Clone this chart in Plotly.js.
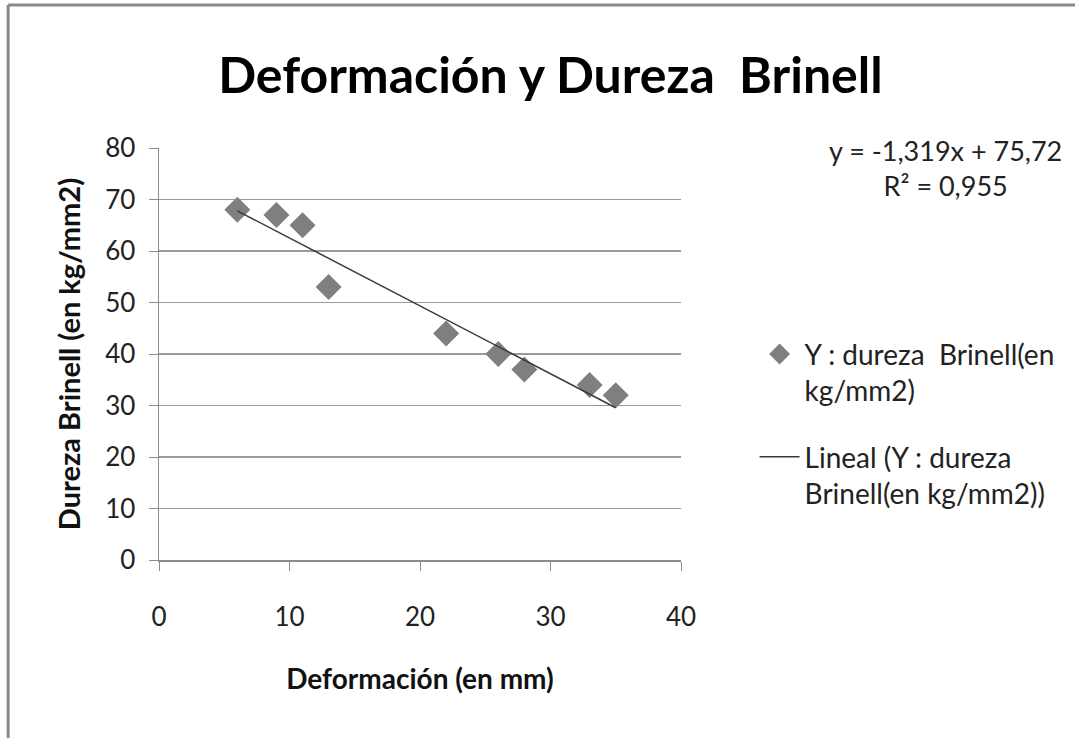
<!DOCTYPE html>
<html>
<head>
<meta charset="utf-8">
<script src="https://cdn.plot.ly/plotly-3.0.1.min.js"></script>
<style>html,body{margin:0;padding:0;background:#fff;}#chart{width:1075px;height:738px;}</style>
</head>
<body>
<div id="chart"></div>
<script>
const deformacion = [6, 9, 11, 13, 22, 26, 28, 33, 35];
const dureza = [68, 67, 65, 53, 44, 40, 37, 34, 32];
const trendSlope = -1.319;
const trendIntercept = 75.72;
const rSquared = 0.955;
const xTicks = [0, 10, 20, 30, 40];
const yTicks = [0, 10, 20, 30, 40, 50, 60, 70, 80];
const seriesName = 'Y : dureza  Brinell(en<br>kg/mm2)';
const trendName = 'Lineal (Y : dureza<br>Brinell(en kg/mm2))';

const FONT = 'Lato, "Open Sans", sans-serif';

const xMin = Math.min(...deformacion), xMax = Math.max(...deformacion);
const trendX = [xMin, xMax];
const trendY = trendX.map(v => trendSlope * v + trendIntercept);

const fmt = (v, d) => v.toFixed(d).replace('.', ',');
const eqText = 'y = ' + fmt(trendSlope, 3) + 'x + ' + fmt(trendIntercept, 2) + '<br>R² = ' + fmt(rSquared, 3);

const data = [
  {x: deformacion, y: dureza, mode: 'markers', type: 'scatter', name: seriesName, legendgroup: 'a',
   marker: {symbol: 'diamond', size: 20, color: '#7f7f7f', line: {width: 0}}},
  {x: trendX, y: trendY, mode: 'lines', type: 'scatter', name: trendName, legendgroup: 'b',
   line: {color: '#3a3a3a', width: 1.5}}
];

const layout = {
  width: 1075, height: 738,
  margin: {l: 159, r: 394, t: 148, b: 178},
  paper_bgcolor: '#ffffff', plot_bgcolor: '#ffffff',
  font: {family: FONT, color: '#222', size: 25},
  title: {text: 'Deformación y Dureza  Brinell', font: {family: FONT, size: 50, color: '#000', weight: 'bold'},
          x: 0.512, xref: 'container', xanchor: 'center', y: 0.898, yref: 'container', yanchor: 'middle'},
  xaxis: {range: [0, 40], tickvals: xTicks, ticks: 'outside', ticklen: 9, tickcolor: '#8c8c8c',
          showline: true, linecolor: '#8c8c8c', linewidth: 1.5, showgrid: false, zeroline: false,
          ticklabelstandoff: 24, tickfont: {size: 26, color: '#222'},
          title: {text: 'Deformación (en mm)', font: {size: 28, color: '#111', weight: 'bold'}, standoff: 38}},
  yaxis: {range: [0, 80], tickvals: yTicks, ticks: 'outside', ticklen: 9, tickcolor: '#8c8c8c',
          showline: true, linecolor: '#8c8c8c', linewidth: 1.5, showgrid: true, gridcolor: '#9a9a9a', gridwidth: 1.2,
          zeroline: false, ticklabelstandoff: 8, tickfont: {size: 26, color: '#222'},
          title: {text: 'Dureza Brinell (en kg/mm2)', font: {size: 29, color: '#111', weight: 'bold'}, standoff: 16}},
  showlegend: true,
  legend: {x: 1.141, xanchor: 'left', y: 0.56, yanchor: 'top', font: {size: 28, color: '#222'},
           bgcolor: 'rgba(0,0,0,0)', traceorder: 'grouped', tracegroupgap: 27, valign: 'top', itemwidth: 40},
  annotations: [
    {text: eqText, xref: 'paper', yref: 'paper', x: 1.506, y: 1.04, xanchor: 'center', yanchor: 'top',
     showarrow: false, align: 'center', font: {size: 27, color: '#222'}}
  ],
  shapes: [
    {type: 'line', xref: 'paper', yref: 'paper', x0: -0.289, x1: 1.9, y0: 1.347, y1: 1.347, line: {color: '#8a8a8a', width: 3}},
    {type: 'line', xref: 'paper', yref: 'paper', x0: -0.289, x1: -0.289, y0: 1.347, y1: -0.5, line: {color: '#8a8a8a', width: 3}}
  ]
};

Plotly.newPlot('chart', data, layout, {displayModeBar: false, staticPlot: true});
</script>
</body>
</html>
